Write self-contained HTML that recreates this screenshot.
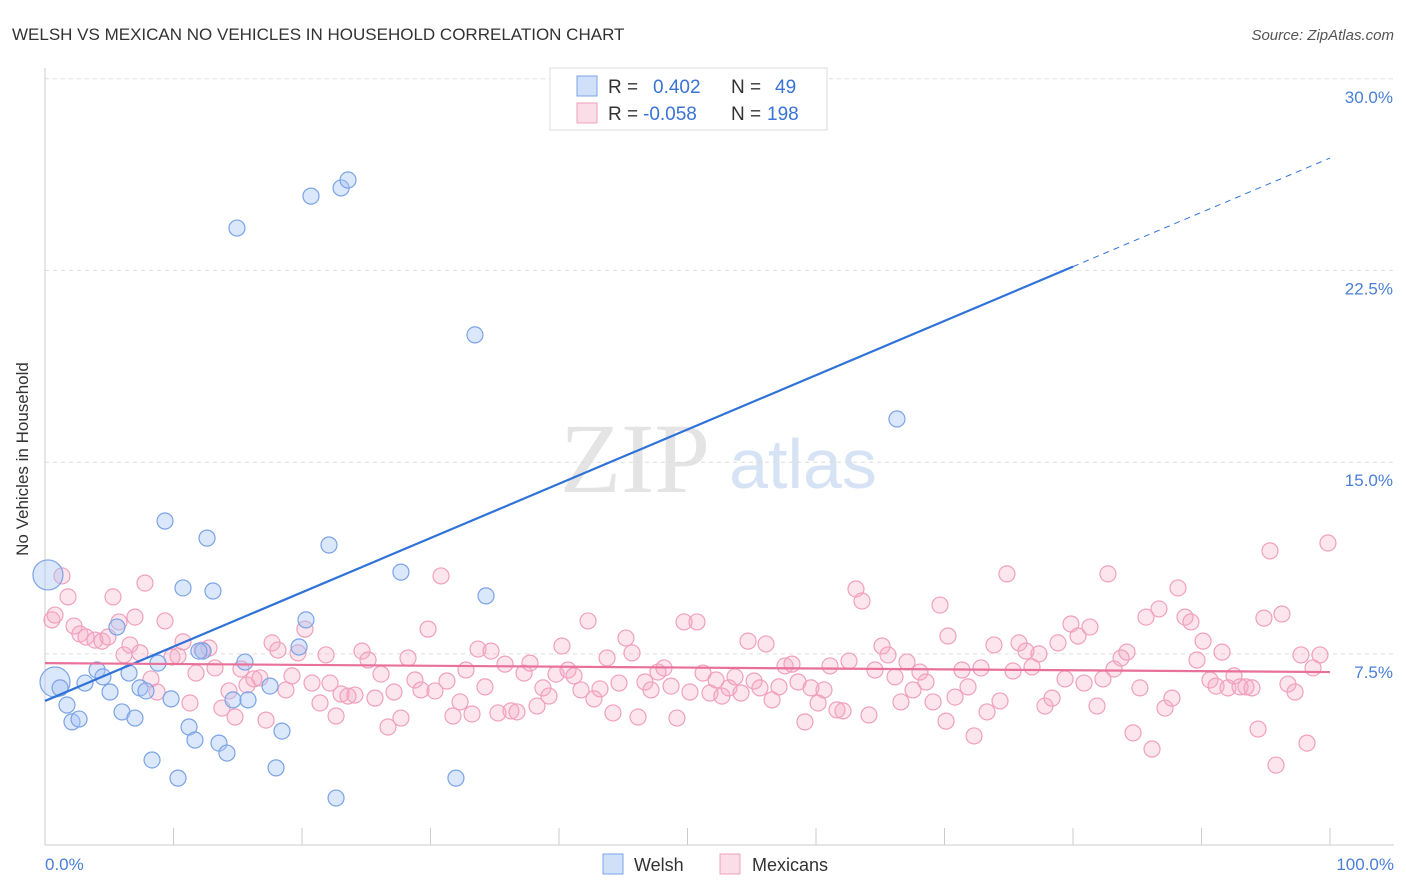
<!DOCTYPE html>
<html><head><meta charset="utf-8">
<style>
body{margin:0;background:#fff;font-family:"Liberation Sans",sans-serif;}
#wrap{position:relative;width:1406px;height:892px;overflow:hidden;}
</style></head>
<body>
<div id="wrap">
<svg id="svg" width="1406" height="892" xmlns="http://www.w3.org/2000/svg">
<text x="12" y="40" font-size="17" fill="#333">WELSH VS MEXICAN NO VEHICLES IN HOUSEHOLD CORRELATION CHART</text>
<text x="1394" y="40" font-size="15" fill="#555" text-anchor="end" font-style="italic">Source: ZipAtlas.com</text>
<text x="635" y="492" font-size="100" fill="#e4e4e4" text-anchor="middle" font-family="Liberation Serif, serif">ZIP</text>
<text x="803" y="488" font-size="70" fill="#d6e3f5" text-anchor="middle">atlas</text>
<g id="grid"></g>
<g id="axes"></g>
<g id="pink"></g>
<g id="blue"></g>
<g id="lines"></g>
<text x="25" y="456" font-size="17" fill="#333" text-anchor="middle" transform="rotate(-90 28 456)">No Vehicles in Household</text>
<text x="45" y="870" font-size="17" fill="#4a7fd6">0.0%</text>
<text x="1394" y="870" font-size="17" fill="#4a7fd6" text-anchor="end">100.0%</text>
<g>
<rect x="550" y="68" width="277" height="62" fill="#fff" stroke="#ddd"/>
<rect x="577" y="76" width="20" height="20" fill="rgba(164,194,244,0.5)" stroke="#7ba3e6"/>
<rect x="577" y="103" width="20" height="20" fill="rgba(246,170,195,0.4)" stroke="#f0a0bd"/>
<text x="608" y="93" font-size="19" fill="#333">R = </text><text x="653" y="93" font-size="19" fill="#3a73d6">0.402</text>
<text x="731" y="93" font-size="19" fill="#333">N = </text><text x="775" y="93" font-size="19" fill="#3a73d6">49</text>
<text x="608" y="120" font-size="19" fill="#333">R = </text><text x="643" y="120" font-size="19" fill="#3a73d6">-0.058</text>
<text x="731" y="120" font-size="19" fill="#333">N = </text><text x="767" y="120" font-size="19" fill="#3a73d6">198</text>
</g>
<g>
<rect x="603" y="854" width="20" height="20" fill="rgba(164,194,244,0.5)" stroke="#7ba3e6"/>
<text x="634" y="871" font-size="18" fill="#333">Welsh</text>
<rect x="720" y="854" width="20" height="20" fill="rgba(246,170,195,0.4)" stroke="#f0a0bd"/>
<text x="752" y="871" font-size="18" fill="#333">Mexicans</text>
</g>
</svg>
</div>
<script>
const yTicks=[7.5,15,22.5,30];
const yTickLabels=["7.5%","15.0%","22.5%","30.0%"];
const xTicks=[0,10,20,30,40,50,60,70,80,90,100];
const welshPx=[[48,575],[55,682],[60,688],[67,705],[72,722],[79,719],[85,683],[97,670],[103,677],[110,692],[117,627],[122,712],[129,673],[135,718],[140,688],[146,691],[152,760],[158,663],[165,521],[171,699],[178,778],[183,588],[189,727],[195,740],[203,651],[207,538],[213,591],[219,743],[227,753],[233,700],[237,228],[245,662],[248,700],[270,686],[276,768],[282,731],[299,647],[306,620],[311,196],[329,545],[336,798],[341,188],[348,180],[401,572],[456,778],[475,335],[486,596],[897,419],[199,651]];
const welshBig=[0,1];
const mexPx=[[52,620],[55,615],[62,576],[68,597],[74,626],[80,634],[86,637],[95,640],[102,641],[108,637],[113,597],[119,622],[124,655],[130,645],[135,617],[140,653],[145,583],[151,679],[157,692],[165,621],[172,657],[178,656],[183,642],[190,703],[196,673],[202,650],[209,648],[215,668],[222,708],[229,691],[235,717],[241,669],[247,685],[254,679],[260,678],[266,720],[272,643],[278,650],[286,690],[292,676],[298,653],[305,629],[312,683],[320,703],[326,655],[330,683],[336,716],[341,694],[348,696],[355,695],[362,651],[368,660],[375,698],[381,674],[388,727],[394,692],[401,718],[408,658],[415,680],[421,690],[428,629],[435,691],[441,576],[447,681],[453,716],[460,702],[466,670],[472,714],[478,649],[485,687],[491,651],[498,713],[505,664],[511,711],[517,712],[524,673],[530,663],[537,706],[543,688],[549,696],[556,674],[562,646],[568,670],[574,676],[581,690],[588,621],[594,699],[600,689],[607,658],[613,713],[619,683],[626,638],[632,653],[638,717],[645,682],[651,690],[658,672],[664,668],[671,686],[677,718],[684,622],[690,692],[697,622],[703,673],[710,693],[716,680],[722,696],[729,688],[735,677],[741,693],[748,641],[754,681],[760,688],[766,644],[772,700],[779,687],[785,666],[792,664],[798,682],[805,722],[811,688],[818,703],[824,690],[830,666],[837,710],[843,711],[849,661],[856,589],[862,601],[869,715],[875,670],[882,646],[888,655],[895,677],[901,702],[907,662],[913,690],[920,672],[926,682],[933,702],[940,605],[946,721],[948,636],[955,697],[962,670],[968,687],[974,736],[981,668],[987,712],[994,645],[1000,701],[1007,574],[1013,671],[1019,643],[1026,651],[1032,667],[1039,654],[1045,706],[1052,698],[1058,643],[1065,679],[1071,624],[1078,636],[1084,683],[1090,627],[1097,706],[1103,679],[1108,574],[1114,669],[1121,658],[1127,652],[1133,733],[1140,688],[1146,617],[1152,749],[1159,609],[1165,708],[1172,698],[1178,588],[1185,617],[1191,622],[1197,660],[1203,641],[1210,680],[1216,686],[1222,652],[1228,688],[1234,676],[1240,687],[1246,687],[1252,688],[1258,729],[1264,618],[1270,551],[1276,765],[1282,614],[1288,684],[1295,692],[1301,655],[1307,743],[1313,668],[1320,655],[1328,543]];
// convert read pixel positions to data values (percent)
const welshX=welshPx.map(p=>+((p[0]-45)/12.85).toFixed(2));
const welshY=welshPx.map(p=>+((845.6-p[1])/25.56).toFixed(2));
const mexX=mexPx.map(p=>+((p[0]-45)/12.85).toFixed(2));
const mexY=mexPx.map(p=>+((845.6-p[1])/25.56).toFixed(2));
const welshTrend=[5.66,26.9];
const mexTrend=[7.14,6.79];
const welshSolidEnd=80;

const NS="http://www.w3.org/2000/svg";
const sx=v=>45+v*12.85;
const sy=v=>845.6-v*25.56;
function mk(tag,attrs,parent){const e=document.createElementNS(NS,tag);for(const k in attrs)e.setAttribute(k,attrs[k]);document.getElementById(parent).appendChild(e);return e;}
yTicks.forEach((t,i)=>{
 const l=mk('line',{x1:45,x2:1394,y1:sy(t),y2:sy(t),stroke:'#ddd','stroke-dasharray':'4,4'},'grid');
 
 
 const tx=mk('text',{x:1393,y:sy(t)+24,'font-size':17,fill:'#4a7fd6','text-anchor':'end'},'grid');
 tx.textContent=yTickLabels[i];
 
 
});
let a=mk('line',{x1:45,x2:45,y1:68,y2:845,stroke:'#ccc'},'axes');


a=mk('line',{x1:45,x2:1394,y1:845,y2:845,stroke:'#ccc'},'axes');


xTicks.forEach(t=>{
 const l=mk('line',{x1:sx(t),x2:sx(t),y1:828,y2:845,stroke:'#ccc'},'axes');
 
 
});
mexX.forEach((x,i)=>{
 const c=mk('circle',{cx:sx(x),cy:sy(mexY[i]),r:8,fill:'rgba(246,170,195,0.3)',stroke:'#f0a0bd','stroke-width':1.2},'pink');
 
 
});
welshX.forEach((x,i)=>{
 const big=welshBig.includes(i);
 const c=mk('circle',{cx:sx(x),cy:sy(welshY[i]),r:big?15:8,fill:'rgba(164,194,244,0.4)',stroke:'#7ba3e6','stroke-width':1.2},'blue');
 
 
});
const wy=x=>welshTrend[0]+(welshTrend[1]-welshTrend[0])*x/100;
let t=mk('line',{x1:sx(0),y1:sy(wy(0)),x2:sx(welshSolidEnd),y2:sy(wy(welshSolidEnd)),stroke:'#2f73d9','stroke-width':2.2},'lines');


t=mk('line',{x1:sx(welshSolidEnd),y1:sy(wy(welshSolidEnd)),x2:sx(100),y2:sy(wy(100)),stroke:'#2f73d9','stroke-width':1,'stroke-dasharray':'6,5'},'lines');


t=mk('line',{x1:sx(0),y1:sy(mexTrend[0]),x2:sx(100),y2:sy(mexTrend[1]),stroke:'#e8709a','stroke-width':2.2},'lines');


</script>
</body></html>
